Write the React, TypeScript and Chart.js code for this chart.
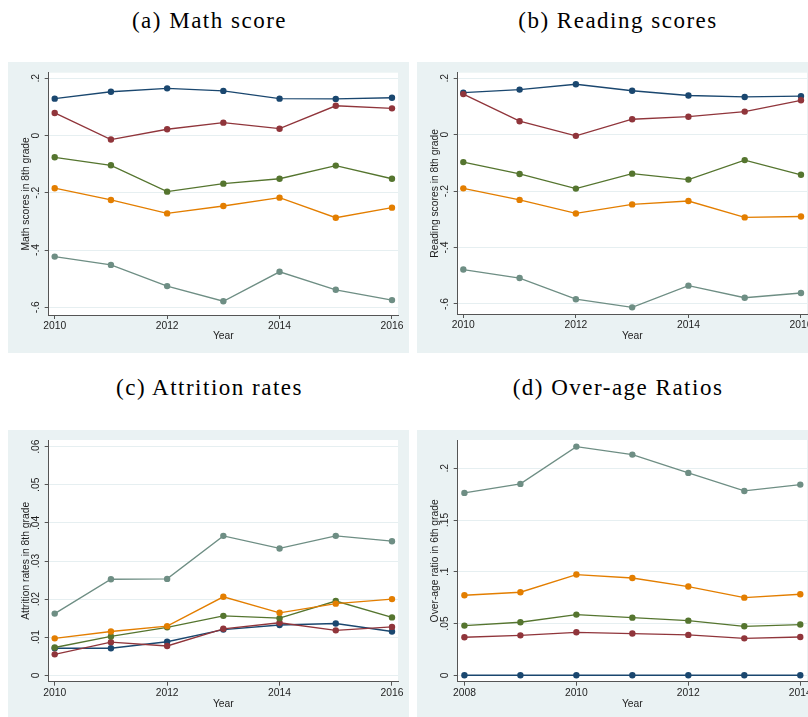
import React, { useEffect, useRef } from "react";
import { Chart, registerables } from "chart.js";

Chart.register(...registerables);

// ---- data ----------------------------------------------------------------
const scoreYears = [2010, 2011, 2012, 2013, 2014, 2015, 2016];
const overageYears = [2008, 2009, 2010, 2011, 2012, 2013, 2014];

const scoreYearTicks = [2010, 2012, 2014, 2016];
const overageYearTicks = [2008, 2010, 2012, 2014];

const scoreTicks = [-0.6, -0.4, -0.2, 0, 0.2];
const attritionTicks = [0, 0.01, 0.02, 0.03, 0.04, 0.05, 0.06];
const overageTicks = [0, 0.05, 0.1, 0.15, 0.2];

const mathNavy = [0.129, 0.153, 0.165, 0.156, 0.129, 0.128, 0.132];
const mathMaroon = [0.079, -0.014, 0.022, 0.045, 0.024, 0.104, 0.095];
const mathGreen = [-0.076, -0.104, -0.196, -0.168, -0.151, -0.105, -0.151];
const mathOrange = [-0.184, -0.225, -0.272, -0.246, -0.217, -0.287, -0.252];
const mathTeal = [-0.423, -0.452, -0.526, -0.579, -0.476, -0.539, -0.575];

const readNavy = [0.149, 0.16, 0.179, 0.156, 0.139, 0.134, 0.137];
const readMaroon = [0.144, 0.048, -0.004, 0.055, 0.064, 0.082, 0.122];
const readGreen = [-0.097, -0.139, -0.191, -0.138, -0.159, -0.09, -0.142];
const readOrange = [-0.19, -0.231, -0.279, -0.247, -0.235, -0.293, -0.29];
const readTeal = [-0.478, -0.508, -0.583, -0.612, -0.535, -0.578, -0.561];

const attrNavy = [0.0071, 0.0071, 0.0088, 0.012, 0.0132, 0.0136, 0.0115];
const attrMaroon = [0.0055, 0.0087, 0.0077, 0.0122, 0.0138, 0.0118, 0.0127];
const attrGreen = [0.0073, 0.0102, 0.0126, 0.0156, 0.015, 0.0195, 0.0152];
const attrOrange = [0.0097, 0.0115, 0.0129, 0.0206, 0.0164, 0.0188, 0.02];
const attrTeal = [0.0162, 0.0252, 0.0253, 0.0366, 0.0333, 0.0366, 0.0352];

const overNavy = [0, 0, 0, 0, 0, 0, 0];
const overMaroon = [0.0367, 0.0386, 0.0415, 0.0403, 0.039, 0.0357, 0.037];
const overGreen = [0.048, 0.0512, 0.0586, 0.0557, 0.0528, 0.0473, 0.049];
const overOrange = [0.0773, 0.0802, 0.0973, 0.094, 0.0857, 0.075, 0.0783];
const overTeal = [0.1762, 0.1849, 0.2209, 0.2132, 0.1955, 0.1781, 0.1842];

// ---- style ---------------------------------------------------------------
const NAVY = "#1A476F";
const MAROON = "#90353B";
const GREEN = "#55752F";
const ORANGE = "#E37E00";
const TEAL = "#6E8E84";
const PALETTE = [NAVY, MAROON, GREEN, ORANGE, TEAL];

const REGION_BG = "#EAF2F3";
const GRID = "#E6EFF1";
const AXIS = "#555555";
const TEXT = "#1E1E1E";
const SANS = "'Liberation Sans', Arial, sans-serif";

const BOX_W = 401;
const BOX_H = 291;

// Stata-style numbers: ".2", "-.4", "0", ".05"
const stataNum = (v: number) => {
  const r = Math.round(v * 1000) / 1000;
  if (r === 0) return "0";
  return String(r).replace("0.", ".");
};

const stataFrame = {
  id: "stataFrame",
  beforeDraw(chart: any) {
    const { ctx, chartArea: a } = chart;
    ctx.save();
    ctx.fillStyle = REGION_BG;
    ctx.fillRect(0, 0, chart.width, chart.height);
    ctx.fillStyle = "#ffffff";
    ctx.fillRect(a.left, a.top, a.right - a.left, a.bottom - a.top);
    ctx.restore();
  },
  afterDraw(chart: any) {
    const { ctx, chartArea: a } = chart;
    const y = chart.scales.y;
    ctx.save();
    ctx.font = `10.3px ${SANS}`;
    ctx.fillStyle = TEXT;
    ctx.textAlign = "center";
    ctx.textBaseline = "alphabetic";
    for (const t of y.ticks) {
      const py = y.getPixelForValue(t.value);
      ctx.save();
      ctx.translate(a.left - 9.5, py);
      ctx.rotate(-Math.PI / 2);
      ctx.fillText(stataNum(t.value), 0, 0);
      ctx.restore();
    }
    ctx.restore();
  },
};

type PanelProps = {
  left: number;
  top: number;
  xs: number[];
  xTicks: number[];
  xMin: number;
  xMax: number;
  yTicks: number[];
  yMin: number;
  yMax: number;
  yTitle: string;
  series: number[][];
  padTop: number;
  bottomH: number;
};

function Panel(p: PanelProps) {
  const ref = useRef<HTMLCanvasElement | null>(null);

  useEffect(() => {
    if (!ref.current) return;
    const font = { family: SANS, size: 10.3 };
    const chart = new Chart(ref.current, {
      type: "line",
      data: {
        datasets: p.series.map((vals, i) => ({
          data: p.xs.map((x, j) => ({ x, y: vals[j] })),
          borderColor: PALETTE[i],
          backgroundColor: PALETTE[i],
          pointBackgroundColor: PALETTE[i],
          borderWidth: 1.35,
          pointRadius: 3.2,
          pointBorderWidth: 0,
          tension: 0,
          order: p.series.length - i,
        })),
      },
      options: {
        responsive: false,
        animation: false,
        layout: { padding: { top: p.padTop, right: 11, left: 0, bottom: 0 } },
        plugins: { legend: { display: false }, tooltip: { enabled: false } },
        scales: {
          x: {
            type: "linear",
            min: p.xMin,
            max: p.xMax,
            afterBuildTicks: (s: any) => {
              s.ticks = p.xTicks.map((v) => ({ value: v }));
            },
            afterFit: (s: any) => {
              s.height = p.bottomH;
            },
            ticks: {
              callback: (v: any) => String(v),
              font,
              color: TEXT,
              padding: 1,
              maxRotation: 0,
              autoSkip: false,
            },
            grid: { drawOnChartArea: false, tickLength: 4, tickColor: AXIS },
            border: { color: AXIS, width: 1 },
            title: {
              display: true,
              text: "Year",
              font,
              color: TEXT,
              padding: { top: 0, bottom: 11 },
            },
          },
          y: {
            type: "linear",
            min: p.yMin,
            max: p.yMax,
            afterBuildTicks: (s: any) => {
              s.ticks = p.yTicks.map((v) => ({ value: v }));
            },
            afterFit: (s: any) => {
              s.width = 40.7;
            },
            ticks: { display: false },
            grid: { color: GRID, lineWidth: 1, tickLength: 4, tickColor: AXIS },
            border: { color: AXIS, width: 1 },
            title: {
              display: true,
              text: p.yTitle,
              font,
              color: TEXT,
              padding: { top: 12.3, bottom: 0 },
            },
          },
        },
      } as any,
      plugins: [stataFrame],
    });
    return () => chart.destroy();
  }, []);

  return (
    <div style={{ position: "absolute", left: p.left, top: p.top, width: BOX_W, height: BOX_H }}>
      <canvas ref={ref} width={BOX_W} height={BOX_H} style={{ display: "block" }} />
    </div>
  );
}

function Caption({ text, center, top }: { text: string; center: number; top: number }) {
  return (
    <div
      style={{
        position: "absolute",
        left: center - 200,
        top,
        width: 400,
        textAlign: "center",
        fontFamily: "'Liberation Serif', 'Times New Roman', serif",
        fontSize: 23,
        lineHeight: "23px",
        letterSpacing: "1.5px",
        color: "#000",
        whiteSpace: "nowrap",
      }}
    >
      {text}
    </div>
  );
}

export default function App() {
  return (
    <div
      style={{
        position: "absolute",
        left: 0,
        top: 0,
        width: 808,
        height: 717,
        overflow: "hidden",
        background: "#ffffff",
      }}
    >
      <Caption text="(a) Math score" center={209.5} top={9} />
      <Caption text="(b) Reading scores" center={618} top={9} />
      <Caption text="(c) Attrition rates" center={209.5} top={376} />
      <Caption text="(d) Over-age Ratios" center={618} top={376} />

      <Panel
        left={8}
        top={62}
        xs={scoreYears}
        xTicks={scoreYearTicks}
        xMin={2009.893}
        xMax={2016.107}
        yTicks={scoreTicks}
        yMin={-0.627}
        yMax={0.2196}
        yTitle="Math scores in 8th grade"
        series={[mathNavy, mathMaroon, mathGreen, mathOrange, mathTeal]}
        padTop={10.7}
        bottomH={38}
      />
      <Panel
        left={417}
        top={62}
        xs={scoreYears}
        xTicks={scoreYearTicks}
        xMin={2009.9}
        xMax={2016.107}
        yTicks={scoreTicks}
        yMin={-0.6355}
        yMax={0.2199}
        yTitle="Reading scores in 8th grade"
        series={[readNavy, readMaroon, readGreen, readOrange, readTeal]}
        padTop={10.7}
        bottomH={39}
      />
      <Panel
        left={8}
        top={430}
        xs={scoreYears}
        xTicks={scoreYearTicks}
        xMin={2009.893}
        xMax={2016.107}
        yTicks={attritionTicks}
        yMin={-0.00168}
        yMax={0.06176}
        yTitle="Attrition rates in 8th grade"
        series={[attrNavy, attrMaroon, attrGreen, attrOrange, attrTeal]}
        padTop={10}
        bottomH={39.3}
      />
      <Panel
        left={417}
        top={430}
        xs={overageYears}
        xTicks={overageYearTicks}
        xMin={2007.88}
        xMax={2014.12}
        yTicks={overageTicks}
        yMin={-0.0062}
        yMax={0.2273}
        yTitle="Over-age ratio in 6th grade"
        series={[overNavy, overMaroon, overGreen, overOrange, overTeal]}
        padTop={10}
        bottomH={39.3}
      />
    </div>
  );
}
